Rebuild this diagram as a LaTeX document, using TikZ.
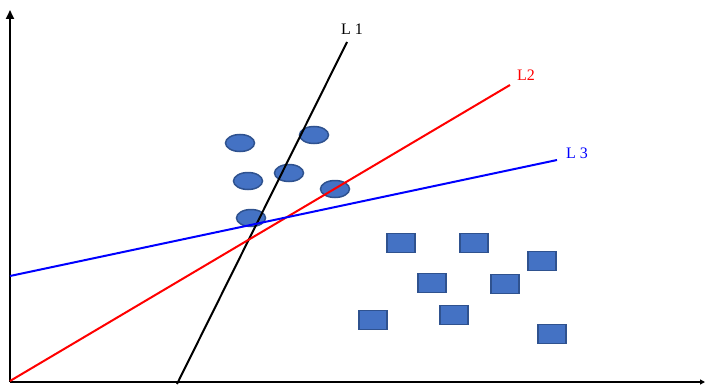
\documentclass[tikz,border=0pt]{standalone}
\usepackage{fontspec}
\setmainfont{Liberation Serif}
\usepackage{xcolor}
\usetikzlibrary{arrows.meta,shapes.geometric}
\definecolor{dotfill}{HTML}{4472C4}
\definecolor{dotdraw}{HTML}{2F528F}

\begin{document}
\begin{tikzpicture}[x=1pt,y=-1pt,
  dot/.style={ellipse,draw=dotdraw,fill=dotfill,line width=1.5pt,minimum width=29pt,minimum height=17pt,inner sep=0pt},
  sq/.style={rectangle,draw=dotdraw,fill=dotfill,line width=1.8pt,minimum width=28pt,minimum height=19pt,inner sep=0pt},
  axis/.style={line width=2.2pt,-{Triangle[length=9pt,width=8pt]}},
  sep/.style={line width=2pt},
  lab/.style={font=\fontsize{16}{19}\selectfont,inner sep=0pt}]
\useasboundingbox (0,0) rectangle (708,385);
% axes
\coordinate (o) at (10,382);
\coordinate (ytop) at (10,10);
\coordinate (xend) at (705,382);
\draw[axis] (o) -- (ytop);
\draw[axis,-{Triangle[length=5pt,width=5pt]}] (o) -- (xend);
% class one
\node[dot] (c1) at (240,143) {};
\node[dot] (c2) at (314,135) {};
\node[dot] (c3) at (248,181) {};
\node[dot] (c4) at (289,173) {};
\node[dot] (c5) at (335,189) {};
\node[dot] (c6) at (251,218) {};
% class two
\node[sq] (s1) at (401,243) {};
\node[sq] (s2) at (474,243) {};
\node[sq] (s3) at (542,261) {};
\node[sq] (s4) at (432,283) {};
\node[sq] (s5) at (505,284) {};
\node[sq] (s6) at (373,320) {};
\node[sq] (s7) at (454,315) {};
\node[sq] (s8) at (552,334) {};
% lines
\coordinate (a1) at (177,384);
\coordinate (b1) at (347,42);
\coordinate (a2) at (10,381);
\coordinate (b2) at (510,85);
\coordinate (a3) at (10,276);
\coordinate (b3) at (557,160);
\draw[sep,black] (a1) -- (b1);
\draw[sep,red] (a2) -- (b2);
\draw[sep,blue] (a3) -- (b3);
\node[lab,black] (l1) at (352,29) {L 1};
\node[lab,red] (l2) at (526,75) {L2};
\node[lab,blue] (l3) at (577,153) {L 3};
\end{tikzpicture}
\end{document}
